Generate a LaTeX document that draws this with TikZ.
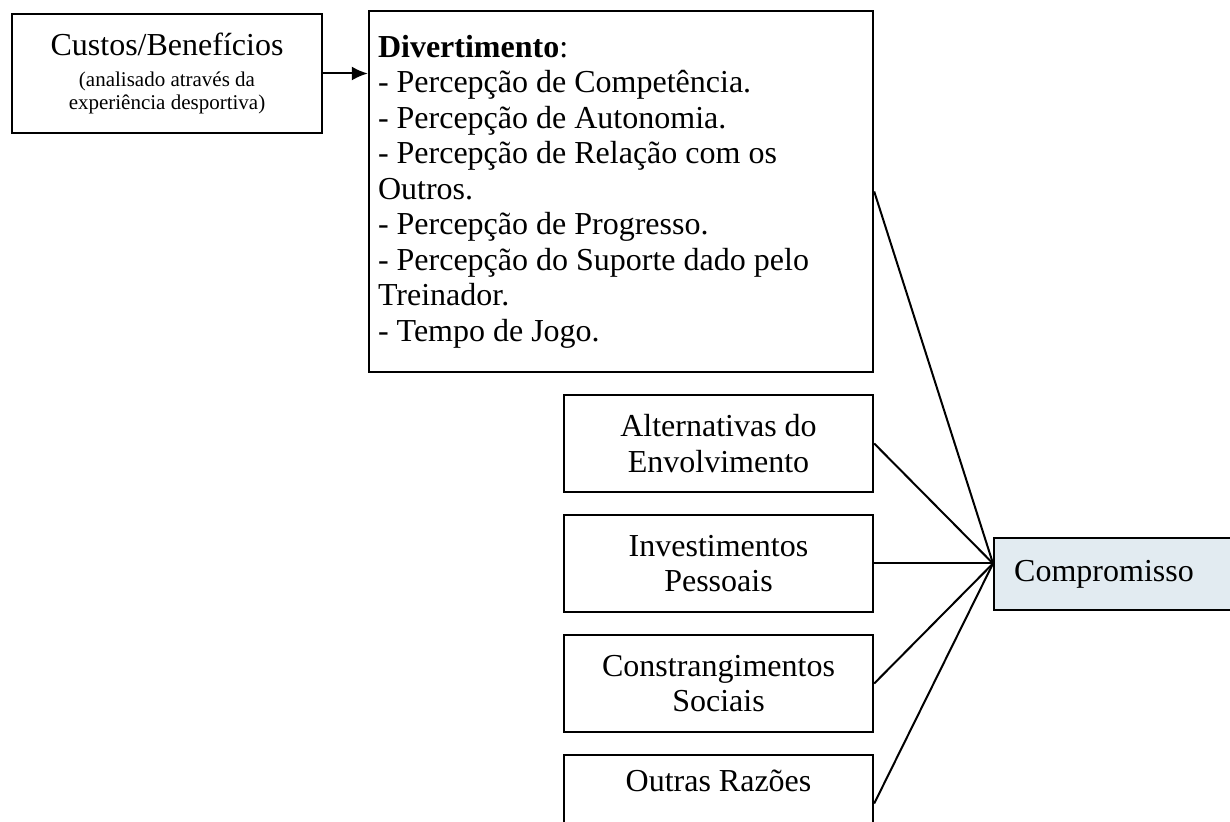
\documentclass[tikz,border=0pt]{standalone}
\usepackage{fontspec}
\setmainfont{Liberation Serif}
\usepackage{tikz}
\usetikzlibrary{arrows.meta,positioning}
\definecolor{comprfill}{RGB}{226,235,241}
\tikzstyle{box}=[rectangle, draw=black, line width=1.2pt, inner xsep=4.5pt, inner ysep=3pt]
\tikzstyle{subbox}=[box, minimum width=154.5pt, minimum height=48.5pt, align=center]
\tikzstyle{conn}=[line width=1pt]
\newcommand{\smalltxt}{\fontsize{10.5}{11.5}\selectfont}

\begin{document}
\begin{tikzpicture}[x=0.5pt, y=-0.5pt, node distance=10.3pt, font=\fontsize{16}{17.75}\selectfont]
      \clip (0,0) rectangle (1230,822);
      %
      \node at (167,73.5) [box, minimum height=59.5pt, text width=146pt, align=flush center] (custos)
        {Custos/Benefícios\\[4pt]\smalltxt (analisado através da\\experiência desportiva)\par};
      \node at (621,191.5) [box, minimum height=180.5pt, text width=243pt, align=flush left] (divert)
        {\textbf{Divertimento}:\\- Percepção de Competência.\\- Percepção de Autonomia.\\- Percepção de Relação com os\\Outros.\\- Percepção de Progresso.\\- Percepção do Suporte dado pelo\\Treinador.\\- Tempo de Jogo.};
      %
      \node [subbox, below left=10.3pt and 0pt of divert.south east] (alt) {Alternativas do\\Envolvimento};
      \node [subbox, below=of alt] (inv) {Investimentos\\Pessoais};
      \node [subbox, below=of inv] (con) {Constrangimentos\\Sociais};
      \node [subbox, below=of con] (outras) {Outras Razões\\\strut};
      %
      \node at (993,574) [box, anchor=west, fill=comprfill, minimum height=36pt, text width=120pt, inner xsep=10pt, align=flush left] (compr) {Compromisso};
      \coordinate (conv) at (compr.west |- inv.east);
      %
      \draw[conn, -{Latex[length=8pt,width=7pt]}] (custos.east) -- (custos.east -| divert.west);
      \foreach \n in {divert,alt,inv,con,outras}
        \draw[conn] (\n.east) -- (conv);
      %
      \end{tikzpicture}
\end{document}
